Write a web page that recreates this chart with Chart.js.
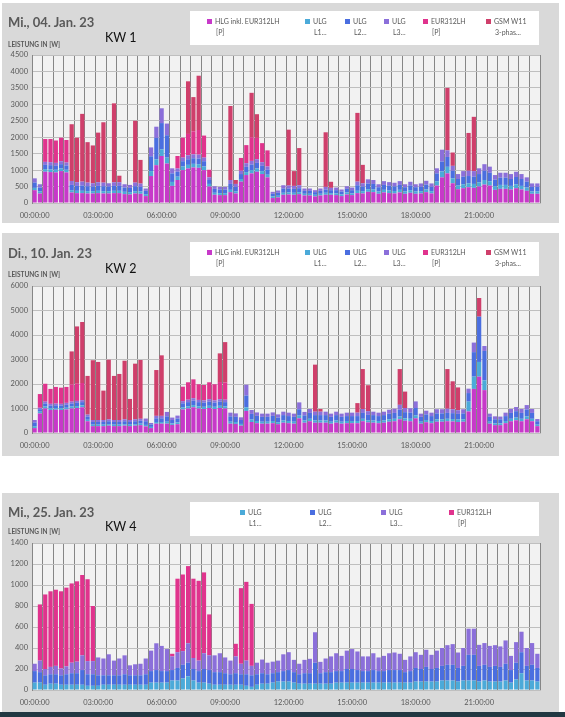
<!DOCTYPE html>
<html>
<head>
<meta charset="utf-8">
<script src="https://cdn.jsdelivr.net/npm/chart.js@4.4.0/dist/chart.umd.min.js"></script>
<style>
  body { margin: 0; width: 565px; height: 717px; background: #fff; position: relative; overflow: hidden; font-family: Lato, "Open Sans", sans-serif; }
  .panel { position: absolute; left: 2px; width: 557px; background: #D9D9D9; }
  canvas { position: absolute; left: 0; }
  .title { position: absolute; left: 8px; font-size: 13px; line-height: 14px; font-weight: bold; color: #595959; white-space: nowrap; }
  .kw { position: absolute; left: 105px; font-size: 12.5px; line-height: 14px; color: #111; }
  .unit { position: absolute; left: 8px; font-size: 6.5px; line-height: 8px; font-weight: bold; color: #595959; }
  .legend { position: absolute; left: 190px; width: 349px; height: 34px; background: #fff; }
  .item { position: absolute; top: 5px; font-size: 7px; line-height: 11px; color: #595959; white-space: nowrap; }
  .item i { display: inline-block; width: 5px; height: 5px; margin-right: 3px; }
  .item span { display: block; margin-left: 9px; }
  .foot { position: absolute; left: 0; top: 712px; width: 565px; height: 5px; background: #213842; }
</style>
</head>
<body>

<div class="panel" style="top:3px;height:220px"></div>
<div class="panel" style="top:233px;height:223px"></div>
<div class="panel" style="top:493px;height:219px"></div>
<div class="foot"></div>

<canvas id="kw1" width="565" height="220" style="top:3px"></canvas>
<canvas id="kw2" width="565" height="223" style="top:233px"></canvas>
<canvas id="kw4" width="565" height="219" style="top:493px"></canvas>

<div class="title" style="top:15px">Mi., 04. Jan. 23</div>
<div class="kw" style="top:31px">KW 1</div>
<div class="unit" style="top:41px">LEISTUNG IN [W]</div>
<div class="legend" style="top:11px">
  <div class="item" style="left:17px"><i style="background:#C739C9"></i>HLG inkl. EUR312LH<span>[P]</span></div>
  <div class="item" style="left:115px"><i style="background:#4BAAD9"></i>ULG<span>L1...</span></div>
  <div class="item" style="left:155px"><i style="background:#4A6EE0"></i>ULG<span>L2...</span></div>
  <div class="item" style="left:194px"><i style="background:#8B6FDA"></i>ULG<span>L3...</span></div>
  <div class="item" style="left:233px"><i style="background:#E0338D"></i>EUR312LH<span>[P]</span></div>
  <div class="item" style="left:296px"><i style="background:#CF3F6B"></i>GSM W11<span>3-phas...</span></div>
</div>

<div class="title" style="top:246px">Di., 10. Jan. 23</div>
<div class="kw" style="top:262px">KW 2</div>
<div class="unit" style="top:271px">LEISTUNG IN [W]</div>
<div class="legend" style="top:242px">
  <div class="item" style="left:17px"><i style="background:#C739C9"></i>HLG inkl. EUR312LH<span>[P]</span></div>
  <div class="item" style="left:115px"><i style="background:#4BAAD9"></i>ULG<span>L1...</span></div>
  <div class="item" style="left:155px"><i style="background:#4A6EE0"></i>ULG<span>L2...</span></div>
  <div class="item" style="left:194px"><i style="background:#8B6FDA"></i>ULG<span>L3...</span></div>
  <div class="item" style="left:233px"><i style="background:#E0338D"></i>EUR312LH<span>[P]</span></div>
  <div class="item" style="left:296px"><i style="background:#CF3F6B"></i>GSM W11<span>3-phas...</span></div>
</div>

<div class="title" style="top:505px">Mi., 25. Jan. 23</div>
<div class="kw" style="top:520px">KW 4</div>
<div class="unit" style="top:528px">LEISTUNG IN [W]</div>
<div class="legend" style="top:502px">
  <div class="item" style="left:50px"><i style="background:#4BAAD9"></i>ULG<span>L1...</span></div>
  <div class="item" style="left:120px"><i style="background:#4A6EE0"></i>ULG<span>L2...</span></div>
  <div class="item" style="left:191px"><i style="background:#8B6FDA"></i>ULG<span>L3...</span></div>
  <div class="item" style="left:259px"><i style="background:#E0338D"></i>EUR312LH<span>[P]</span></div>
</div>

<script>
// 15-Minuten-Werte, 00:00 bis 23:45
var timeCats = [];
for (var h = 0; h < 24; h++) {
  for (var m = 0; m < 60; m += 15) {
    timeCats.push(String(h).padStart(2, '0') + ':' + String(m).padStart(2, '0') + ':00');
  }
}
var tickLabels = ['00:00:00', '03:00:00', '06:00:00', '09:00:00', '12:00:00', '15:00:00', '18:00:00', '21:00:00'];

// KW 1 - Mi., 04. Jan. 23
var kw1Hlg = [390,290,950,940,930,970,930,320,300,300,290,290,
              300,290,290,300,300,270,260,290,280,210,820,1150,
              1430,1200,520,700,1000,1050,1080,1070,1000,500,250,240,
              240,330,290,650,850,900,950,880,780,150,170,250,
              260,250,270,230,230,200,230,250,250,240,210,260,
              240,300,290,340,330,280,320,300,290,320,280,310,
              280,290,330,290,530,780,900,600,420,450,480,460,
              500,560,530,400,430,430,410,450,410,370,280,280];
var kw1L1 = [70,60,80,80,80,80,80,70,70,70,70,70,
             70,70,70,70,70,70,70,70,70,60,150,180,
             200,180,120,100,110,110,110,110,110,80,60,60,
             60,70,60,80,90,100,100,90,80,50,50,60,
             60,60,60,50,50,50,50,60,50,50,50,60,
             50,70,70,80,80,70,80,80,75,80,70,80,
             70,70,80,70,130,180,200,150,110,120,120,120,
             130,140,130,110,120,120,110,120,110,100,70,70];
var kw1L2 = [160,120,130,130,120,130,130,160,150,160,150,140,
             150,150,140,150,150,130,130,150,140,100,450,650,
             800,680,260,150,160,170,170,170,160,120,120,110,
             110,180,140,150,160,170,170,160,150,80,90,130,
             120,120,120,90,90,80,90,100,90,100,90,110,
             100,170,140,170,170,130,150,145,140,150,130,145,
             130,135,150,135,240,300,300,230,200,230,220,220,
             250,280,260,200,220,220,210,220,210,180,140,140];
var kw1L3 = [130,100,90,90,90,90,90,120,110,120,110,100,
             110,110,100,110,110,100,90,110,100,70,270,340,
             450,355,155,100,110,120,120,120,110,80,80,80,
             80,120,90,100,110,110,110,110,100,60,70,100,
             90,90,90,70,70,60,70,80,70,80,60,80,
             80,110,100,130,120,90,115,110,110,115,90,110,
             90,100,115,100,155,360,200,150,150,170,160,170,
             175,200,185,140,150,150,150,160,150,130,105,105];
var kw1Eur = [0,0,695,705,680,715,685,0,0,0,0,0,
              0,0,0,0,0,0,0,0,0,0,0,0,
              0,0,0,380,605,650,700,750,670,230,0,0,
              0,0,0,390,550,720,650,580,490,0,0,0,
              0,0,0,0,0,0,0,0,0,0,0,0,
              0,0,0,0,0,0,0,0,0,0,0,0,
              0,0,0,0,0,0,0,0,0,0,0,0,
              0,0,0,0,0,0,0,0,0,0,0,0];
var kw1Gsm = [0,0,0,0,0,0,0,1725,1355,2060,1230,1150,
              1510,1835,0,2400,200,0,0,1880,720,0,0,0,
              0,0,0,0,0,1600,1040,1650,0,0,0,0,
              0,2250,120,0,0,1350,720,0,0,0,0,0,
              1700,450,1130,0,0,0,0,1660,185,0,0,0,
              0,2090,560,0,0,0,0,0,0,0,0,0,
              0,0,0,0,0,0,1900,405,0,0,1150,1650,
              0,0,0,0,0,0,0,0,0,0,0,0];

// KW 2 - Di., 10. Jan. 23
var kw2Hlg = [200,800,1000,940,950,940,960,1000,1020,1050,480,280,
              280,280,300,280,280,300,280,300,320,270,200,380,
              380,380,330,360,960,1000,1050,1000,980,1020,980,1020,
              1000,380,370,300,900,450,400,380,380,400,360,420,
              400,380,600,420,480,420,420,420,380,420,380,400,
              400,400,480,430,420,400,420,460,480,560,500,480,
              600,380,440,400,460,460,480,470,450,460,880,1800,
              2300,1750,380,320,320,400,480,520,480,560,480,280];
var kw2L1 = [80,70,80,70,70,70,70,80,80,80,60,60,
             60,60,60,60,60,60,60,60,60,60,50,70,
             70,80,60,70,90,90,90,90,90,90,90,90,
             90,80,80,70,150,100,90,80,80,90,80,90,
             90,80,110,90,100,90,90,90,80,90,80,90,
             90,90,100,90,90,90,90,100,100,110,100,100,
             120,80,90,90,100,100,100,100,100,100,400,500,
             600,400,80,70,70,90,100,110,100,120,100,60];
var kw2L2 = [150,100,120,110,110,110,120,120,130,130,130,110,
             110,110,120,110,110,120,110,120,120,150,100,150,
             150,220,140,160,160,170,180,170,170,170,170,170,
             170,220,210,160,480,230,210,200,200,210,190,220,
             200,200,260,210,240,220,220,220,200,220,200,200,
             200,200,240,220,220,200,220,230,240,280,250,250,
             300,200,230,200,240,240,240,240,230,240,350,1000,
             1850,1200,200,170,170,200,240,260,240,280,240,140];
var kw2L3 = [100,60,80,70,70,70,80,80,80,80,80,80,
             80,80,80,80,80,80,80,80,80,110,60,100,
             100,180,100,120,90,100,100,90,90,100,90,100,
             100,150,140,110,440,160,140,130,130,140,130,140,
             140,130,280,140,160,140,140,140,130,140,130,140,
             140,140,160,150,140,140,140,160,170,200,170,180,
             270,130,150,140,170,170,170,160,150,170,180,390,
             0,200,130,120,110,140,160,170,160,180,160,90];
var kw2Eur = [0,560,730,610,680,660,650,700,700,700,0,0,
              0,0,0,0,0,0,0,0,0,0,0,0,
              0,0,0,0,590,710,770,640,630,690,660,700,
              700,0,0,0,0,0,0,0,0,0,0,0,
              0,0,0,0,0,0,0,0,0,0,0,0,
              0,0,0,0,0,0,0,0,0,0,0,0,
              0,0,0,0,0,0,0,0,0,0,0,0,
              0,0,0,0,0,0,0,0,0,0,0,0];
var kw2Gsm = [0,0,0,0,0,0,0,1350,2340,2490,1580,2440,
              2370,1200,2430,1800,1880,2390,860,2270,2400,0,0,1870,
              2470,0,0,0,0,0,0,0,0,0,0,1170,
              1650,0,0,0,0,0,0,0,0,0,0,0,
              0,0,0,0,0,1920,110,0,0,0,0,0,
              0,390,1630,1060,0,0,0,0,0,1460,670,0,
              0,0,0,0,0,0,1620,1140,930,0,0,0,
              760,0,0,0,0,0,0,0,0,0,0,0];

// KW 4 - Mi., 25. Jan. 23
var kw4L1 = [70,70,50,60,60,50,50,50,50,50,40,40,
             40,50,50,50,50,50,50,50,50,50,70,70,
             70,70,90,90,110,130,90,70,70,60,50,50,
             50,50,50,50,40,30,50,60,60,70,80,80,
             80,70,60,60,60,60,60,60,60,70,70,70,
             70,70,70,70,70,70,70,70,70,70,70,70,
             80,80,80,80,80,90,90,90,80,90,90,90,
             80,90,80,80,80,90,70,100,160,90,90,80];
var kw4L2 = [110,100,90,90,90,90,100,110,110,140,110,110,
             100,90,90,90,90,100,90,90,90,100,110,120,
             110,110,100,120,130,130,110,110,130,130,120,120,
             110,100,110,100,110,110,100,100,90,90,90,100,
             110,100,90,100,100,200,100,110,110,110,110,130,
             130,120,110,110,120,110,110,120,120,120,100,110,
             130,120,140,120,130,140,150,150,130,140,245,245,
             150,150,140,150,140,160,120,160,200,140,150,130];
var kw4L3 = [70,110,60,70,80,65,75,100,110,140,125,125,
             170,160,200,140,160,180,95,105,110,150,195,255,
             240,210,130,150,130,185,105,100,150,140,160,180,
             150,130,160,100,130,90,110,130,110,110,110,160,
             170,117,100,127,137,290,108,130,150,170,145,175,
             190,177,140,140,160,130,145,160,167,155,117,140,
             150,135,163,135,165,170,187,197,147,170,249,249,
             200,207,200,197,195,222,135,196,195,170,207,135];
var kw4Eur = [0,535,710,720,725,735,750,755,765,765,780,525,
              0,0,0,0,0,0,0,0,0,0,0,0,
              0,0,25,700,730,735,755,760,770,390,0,0,
              0,0,120,720,750,590,0,0,0,0,0,0,
              0,0,0,0,0,0,0,0,0,0,0,0,
              0,0,0,0,0,0,0,0,0,0,0,0,
              0,0,0,0,0,0,0,0,0,0,0,0,
              0,0,0,0,0,0,0,0,0,0,0,0];

Chart.defaults.font.family = 'Lato, "Open Sans", sans-serif';

// heller Hintergrund der Zeichnungsfläche
var plotBg = {
  id: 'plotBg',
  beforeDraw: function(chart) {
    var a = chart.chartArea, c = chart.ctx;
    c.save();
    c.fillStyle = '#F2F2F2';
    c.fillRect(a.left, a.top, a.right - a.left, a.bottom - a.top);
    c.restore();
  }
};

function drawPanel(id, areaTop, areaBottom, yMax, yStep, sets) {
  var cv = document.getElementById(id);
  return new Chart(cv, {
    type: 'bar',
    data: {
      labels: timeCats,
      datasets: sets.map(function(s) {
        return { label: s[0], data: s[1], backgroundColor: s[2], borderWidth: 0,
                 barPercentage: 0.8, categoryPercentage: 1 };
      })
    },
    options: {
      responsive: false,
      animation: false,
      layout: { padding: { left: 4, right: 25, top: areaTop, bottom: cv.height - areaBottom - 19 } },
      plugins: { legend: { display: false }, tooltip: { enabled: false } },
      scales: {
        x: {
          stacked: true,
          grid: {
            offset: true,
            drawTicks: false,
            color: function(c) {
              return (c.index === undefined || c.index % 2 === 0) ? '#868686' : 'rgba(0,0,0,0)';
            }
          },
          border: { color: '#BFBFBF' },
          ticks: {
            autoSkip: false, maxRotation: 0, minRotation: 0, padding: 8,
            color: '#595959', font: { size: 7.5 },
            callback: function(v, i) { return tickLabels.indexOf(timeCats[i]) >= 0 ? timeCats[i] : ''; }
          },
          afterFit: function(s) { s.height = 19; }
        },
        y: {
          stacked: true, min: 0, max: yMax,
          grid: { color: '#BFBFBF', drawTicks: false },
          border: { color: '#868686' },
          ticks: {
            stepSize: yStep, padding: 4, color: '#595959', font: { size: 7.5 },
            callback: function(v) { return String(v); }
          },
          afterFit: function(s) { s.width = 28; }
        }
      }
    },
    plugins: [plotBg]
  });
}

drawPanel('kw1', 52, 200, 4500, 500, [
  ['HLG inkl. EUR312LH [P]', kw1Hlg, '#C739C9'],
  ['ULG L1', kw1L1, '#4BAAD9'],
  ['ULG L2', kw1L2, '#4A6EE0'],
  ['ULG L3', kw1L3, '#8B6FDA'],
  ['EUR312LH [P]', kw1Eur, '#E0338D'],
  ['GSM W11 3-phas', kw1Gsm, '#CF3F6B']
]);

drawPanel('kw2', 53, 200, 6000, 1000, [
  ['HLG inkl. EUR312LH [P]', kw2Hlg, '#C739C9'],
  ['ULG L1', kw2L1, '#4BAAD9'],
  ['ULG L2', kw2L2, '#4A6EE0'],
  ['ULG L3', kw2L3, '#8B6FDA'],
  ['EUR312LH [P]', kw2Eur, '#E0338D'],
  ['GSM W11 3-phas', kw2Gsm, '#CF3F6B']
]);

drawPanel('kw4', 50, 197, 1400, 200, [
  ['ULG L1', kw4L1, '#4BAAD9'],
  ['ULG L2', kw4L2, '#4A6EE0'],
  ['ULG L3', kw4L3, '#8B6FDA'],
  ['EUR312LH [P]', kw4Eur, '#E0338D']
]);
</script>
</body>
</html>
